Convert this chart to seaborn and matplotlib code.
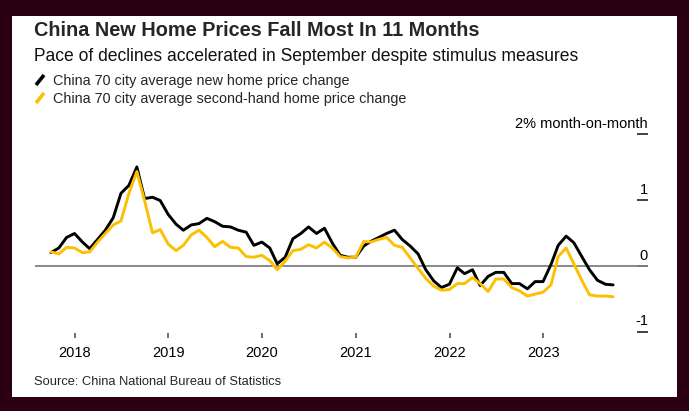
import pandas as pd
import numpy as np
import matplotlib
matplotlib.use("Agg")
import matplotlib.pyplot as plt
import matplotlib.dates as mdates
from matplotlib.lines import Line2D
from matplotlib.patches import Rectangle
import seaborn as sns

sns.set_style("white")
plt.rcParams['font.family'] = ['Liberation Sans', 'DejaVu Sans']

# monthly values, Sep 2017 - Sep 2023 (% month-on-month)
months = pd.date_range('2017-09-30', periods=73, freq='ME')

new_home = [0.20, 0.27, 0.43, 0.49, 0.36, 0.26, 0.40, 0.54, 0.73, 1.10,
            1.22, 1.50, 1.02, 1.04, 0.99, 0.78, 0.63, 0.54, 0.62, 0.64,
            0.72, 0.67, 0.60, 0.59, 0.54, 0.51, 0.31, 0.36, 0.27, 0.03,
            0.13, 0.41, 0.49, 0.59, 0.49, 0.57, 0.35, 0.16, 0.13, 0.13,
            0.30, 0.37, 0.43, 0.49, 0.54, 0.40, 0.30, 0.18, -0.06, -0.23,
            -0.33, -0.28, -0.03, -0.12, -0.06, -0.30, -0.16, -0.10, -0.10, -0.27,
            -0.27, -0.35, -0.24, -0.24, 0.02, 0.31, 0.45, 0.35, 0.14, -0.06,
            -0.22, -0.28, -0.29]

second_hand = [0.21, 0.18, 0.28, 0.27, 0.20, 0.21, 0.36, 0.49, 0.62, 0.68,
               1.10, 1.43, 0.99, 0.50, 0.55, 0.33, 0.23, 0.31, 0.47, 0.54,
               0.43, 0.29, 0.37, 0.28, 0.27, 0.14, 0.13, 0.16, 0.08, -0.06,
               0.07, 0.23, 0.25, 0.32, 0.27, 0.36, 0.27, 0.14, 0.12, 0.13,
               0.37, 0.36, 0.40, 0.43, 0.31, 0.28, 0.12, -0.04, -0.19, -0.31,
               -0.37, -0.36, -0.27, -0.27, -0.18, -0.27, -0.39, -0.20, -0.20, -0.33,
               -0.38, -0.46, -0.43, -0.40, -0.29, 0.14, 0.27, 0.03, -0.22, -0.44,
               -0.46, -0.46, -0.47]

series_names = ['China 70 city average new home price change',
                'China 70 city average second-hand home price change']
colors = ['#000000', '#FDC000']

y_ticks = [2, 1, 0, -1]
y_labels = ['2% month-on-month', '1', '0', '-1']
x_years = [2018, 2019, 2020, 2021, 2022, 2023]

df = pd.concat([
    pd.DataFrame({'date': months, 'value': new_home, 'series': series_names[0]}),
    pd.DataFrame({'date': months, 'value': second_hand, 'series': series_names[1]}),
])

W, H = 689, 411
fig = plt.figure(figsize=(W / 100, H / 100), dpi=100)
fig.patch.set_facecolor('#2a0012')
fig.add_artist(Rectangle((12 / W, 14 / H), 665 / W, 381 / H, transform=fig.transFigure,
                         facecolor='white', edgecolor='none', zorder=0))


def px(x, y):
    return x / W, 1 - y / H


ax = fig.add_axes([35 / W, (H - 333) / H, 613 / W, 199 / H])
ax.set_facecolor('white')
ax.patch.set_alpha(0)

ax.axhline(0, color='#808080', lw=1.3, zorder=1)
sns.lineplot(data=df, x='date', y='value', hue='series', palette=colors,
             hue_order=series_names, legend=False, ax=ax, linewidth=2.1, zorder=3)

ax.set_ylim(-1.02, 2.0)
ax.set_xlim(months[0] - pd.Timedelta(days=62), months[-1] + pd.Timedelta(days=136))

for s in ax.spines.values():
    s.set_visible(False)

ax.set_xticks([pd.Timestamp(f'{y}-01-01') for y in x_years])
ax.xaxis.set_major_formatter(mdates.DateFormatter('%Y'))
ax.tick_params(axis='x', bottom=True, direction='out', length=3.5, width=1.2,
               color='#555555', pad=6, labelsize=10.5, labelcolor='black')

ax.yaxis.tick_right()
ax.set_yticks(y_ticks)
ax.set_yticklabels([])
ax.tick_params(axis='y', right=True, direction='in', length=8, width=1.2,
               color='#222222', pad=0)
for v, lab in zip(y_ticks, y_labels):
    ax.annotate(lab, xy=(1, v), xycoords=ax.get_yaxis_transform(),
                xytext=(0, 4.5), textcoords='offset points',
                ha='right', va='baseline', fontsize=10.5, color='black')

ax.set_xlabel('')
ax.set_ylabel('')

fig.text(*px(34, 36), 'China New Home Prices Fall Most In 11 Months',
         fontsize=14.3, fontweight='bold', va='baseline', ha='left')
fig.text(*px(34, 61), 'Pace of declines accelerated in September despite stimulus measures',
         fontsize=12.65, va='baseline', ha='left', color='#111111')
for i, (name, c) in enumerate(zip(series_names, colors)):
    base = 85 + 18 * i
    fig.add_artist(Line2D([36 / W, 44 / W], [1 - base / H, 1 - (base - 10) / H],
                          transform=fig.transFigure, color=c, lw=2.6,
                          solid_capstyle='butt'))
    fig.text(*px(53, base), name, fontsize=10.4, va='baseline', ha='left')

fig.text(*px(34, 385), 'Source: China National Bureau of Statistics',
         fontsize=9.3, va='baseline', ha='left')

fig.savefig('out.png', dpi=100, facecolor=fig.get_facecolor())
